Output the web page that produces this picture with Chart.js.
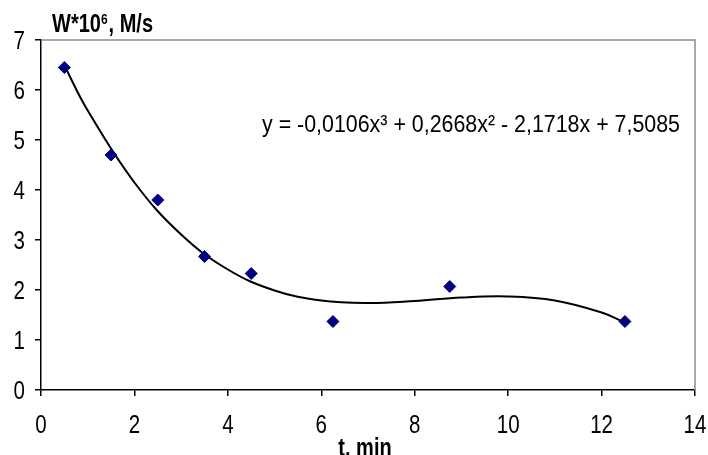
<!DOCTYPE html>
<html>
<head>
<meta charset="utf-8">
<script src="https://cdn.jsdelivr.net/npm/chart.js@4.4.0/dist/chart.umd.min.js"></script>
<style>
  html, body { margin: 0; padding: 0; background: #fff; }
  #wrap { width: 708px; height: 455px; }
</style>
</head>
<body>
<div id="wrap"><canvas id="chart"></canvas></div>
<script>
/** Data */
const timeMin = [0.5, 1.5, 2.5, 3.5, 4.5, 6.25, 8.75, 12.5];
const rateW = [6.45, 4.7, 3.8, 2.67, 2.33, 1.37, 2.07, 1.37];

// trend line
const trendX = [0.5, 1, 2, 3, 4, 5, 6, 7, 8, 9, 10, 11, 12, 12.5];
const trendY = [6.49, 5.59, 4.15, 3.11, 2.41, 1.99, 1.79, 1.74, 1.78, 1.85, 1.87, 1.79, 1.55, 1.35];

const xTicks = [0, 2, 4, 6, 8, 10, 12, 14];
const yTicks = [0, 1, 2, 3, 4, 5, 6, 7];

const yTitle = 'W*10';
const yTitleSup = '6';
const yTitleRest = ', M/s';
const xTitle = 't. min';
const equation = 'y = -0,0106x\u00b3 + 0,2668x\u00b2 - 2,1718x + 7,5085';

const FONT = '"Liberation Sans", Arial, sans-serif';
const SQUEEZE = 0.82;   // the picture uses a narrow face

/** Local helpers */
let Local = {
    pairs: function (xs, ys) {
        let out = [];
        for (let i = 0; i < xs.length; i++) {
            out.push({ x: xs[i], y: ys[i] });
        }
        return out;
    },
    /**
     * Draw text squeezed horizontally
     */
    narrowText: function (ctx, text, x, y, sx, align) {
        let w = ctx.measureText(text).width * sx;
        let left = x;
        if (align === 'center') left = x - w / 2;
        if (align === 'right') left = x - w;
        ctx.save();
        ctx.translate(left, y);
        ctx.scale(sx, 1);
        ctx.textAlign = 'left';
        ctx.fillText(text, 0, 0);
        ctx.restore();
        return w;
    }
};

// texts, tick labels and the grey frame round the plot
const extras = {
    id: 'extras',
    afterDraw: function (chart) {
        const ctx = chart.ctx;
        const a = chart.chartArea;
        const sx = chart.scales.x;
        const sy = chart.scales.y;
        ctx.save();
        ctx.strokeStyle = '#8c8c8c';
        ctx.lineWidth = 1.5;
        ctx.beginPath();
        ctx.moveTo(a.left, a.top);
        ctx.lineTo(a.right, a.top);
        ctx.lineTo(a.right, a.bottom);
        ctx.stroke();

        ctx.fillStyle = '#000';
        ctx.textBaseline = 'alphabetic';

        // tick labels
        ctx.font = '25px ' + FONT;
        xTicks.forEach(function (v) {
            Local.narrowText(ctx, String(v), sx.getPixelForValue(v), a.bottom + 43, SQUEEZE, 'center');
        });
        yTicks.forEach(function (v) {
            Local.narrowText(ctx, String(v), 25, sy.getPixelForValue(v) + 9, SQUEEZE, 'right');
        });

        // axis titles
        ctx.font = 'bold 25px ' + FONT;
        Local.narrowText(ctx, xTitle, 365, 456, 0.8, 'center');

        let x = 52;
        x += Local.narrowText(ctx, yTitle, x, 32, 0.8, 'left');
        ctx.font = 'bold 15px ' + FONT;
        x += Local.narrowText(ctx, yTitleSup, x, 24, 0.8, 'left') + 1;
        ctx.font = 'bold 25px ' + FONT;
        Local.narrowText(ctx, yTitleRest, x, 32, 0.8, 'left');

        // trend equation, fitted into the width it has in the picture
        ctx.font = '24px ' + FONT;
        let eqW = ctx.measureText(equation).width;
        Local.narrowText(ctx, equation, 262, 132, 418 / eqW, 'left');
        ctx.restore();
    }
};

new Chart(document.getElementById('chart'), {
    type: 'scatter',
    data: {
        datasets: [{
            data: Local.pairs(timeMin, rateW),
            pointStyle: 'rectRot',
            pointRadius: 6,
            backgroundColor: '#000080',
            borderColor: '#000080',
            showLine: false,
            order: 1
        }, {
            data: Local.pairs(trendX, trendY),
            showLine: true,
            pointRadius: 0,
            borderColor: '#000',
            borderWidth: 2,
            tension: 0.4,
            order: 2
        }]
    },
    options: {
        responsive: true,
        maintainAspectRatio: false,
        animation: false,
        layout: { padding: { left: 0, right: 13, top: 40, bottom: 0 } },
        plugins: { legend: { display: false }, tooltip: { enabled: false } },
        scales: {
            x: {
                type: 'linear', min: 0, max: 14,
                afterBuildTicks: function (s) { s.ticks = xTicks.map(v => ({ value: v })); },
                afterFit: function (s) { s.height = 65; },
                grid: { drawOnChartArea: false, color: '#000', tickLength: 6, lineWidth: 1.5 },
                border: { color: '#000', width: 1.5 },
                ticks: { display: false }
            },
            y: {
                type: 'linear', min: 0, max: 7,
                afterBuildTicks: function (s) { s.ticks = yTicks.map(v => ({ value: v })); },
                afterFit: function (s) { s.width = 41; },
                grid: { drawOnChartArea: false, color: '#000', tickLength: 6, lineWidth: 1.5 },
                border: { color: '#000', width: 1.5 },
                ticks: { display: false }
            }
        }
    },
    plugins: [extras]
});
</script>
</body>
</html>
